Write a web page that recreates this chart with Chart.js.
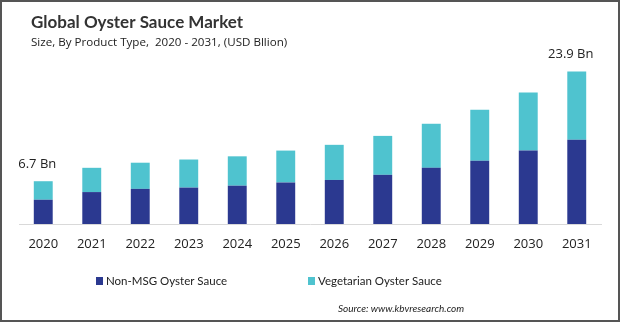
<!DOCTYPE html>
<html>
<head>
<meta charset="utf-8">
<script src="https://cdn.jsdelivr.net/npm/chart.js@4"></script>
<style>
  html, body { margin: 0; padding: 0; background: #fff; }
  canvas { display: block; }
</style>
</head>
<body>
<canvas id="chart1" width="620" height="322"></canvas>
<script>
const years = ["2020", "2021", "2022", "2023", "2024", "2025", "2026", "2027", "2028", "2029", "2030", "2031"];
const nonMsg = [3.8, 5.0, 5.5, 5.7, 6.0, 6.5, 6.9, 7.7, 8.8, 9.9, 11.5, 13.2];
const vegetarian = [2.9, 3.8, 4.1, 4.4, 4.6, 5.0, 5.5, 6.1, 6.9, 8.0, 9.1, 10.7];
const endLabels = ["6.7 Bn", "", "", "", "", "", "", "", "", "", "", "23.9 Bn"];

const titleText = "Global Oyster Sauce Market";
const subtitleText = "Size, By Product Type,  2020 - 2031, (USD Bllion)";
const sourceText = "Source: www.kbvresearch.com";

const font = "'Open Sans', sans-serif";
const narrow = "Lato, sans-serif";
const navy = "#2b3990";
const teal = "#4fc3cf";

// title, legend, labels and border drawn straight on the canvas
const extras = {
  id: "extras",
  afterDraw(chart) {
    const c = chart.ctx;
    c.save();

    c.strokeStyle = "#555";
    c.lineWidth = 2;
    c.strokeRect(1, 1, 618, 320);

    c.fillStyle = "#333";
    c.textBaseline = "alphabetic";
    c.textAlign = "left";
    c.font = "bold 17px " + narrow;
    c.fillText(titleText, 31, 28);
    c.font = "11.6px " + font;
    c.fillStyle = "#222";
    c.fillText(subtitleText, 31, 46);

    // totals above first and last bar
    const x = chart.scales.x, y = chart.scales.y;
    c.font = "13px " + font;
    c.fillStyle = "#222";
    c.textAlign = "center";
    endLabels.forEach((t, i) => {
      if (!t) return;
      const total = nonMsg[i] + vegetarian[i];
      c.fillText(t, x.getPixelForValue(i) - 6, y.getPixelForValue(total) - 13);
    });

    // legend
    c.textAlign = "left";
    c.textBaseline = "middle";
    c.font = "11.5px " + narrow;
    const items = [
      { text: chart.data.datasets[0].label, color: navy, x: 96 },
      { text: chart.data.datasets[1].label, color: teal, x: 308 },
    ];
    items.forEach((it) => {
      c.fillStyle = it.color;
      c.fillRect(it.x, 277, 7, 8);
      c.fillStyle = "#222";
      c.fillText(it.text, it.x + 10, 281.5);
    });

    c.font = "italic 10px " + narrow;
    c.fillStyle = "#222";
    c.fillText(sourceText, 338, 309);

    c.restore();
  },
};

var ctx = document.getElementById("chart1").getContext("2d");
var myChart = new Chart(ctx, {
  type: "bar",
  data: {
    labels: years,
    datasets: [
      {
        label: "Non-MSG Oyster Sauce",
        data: nonMsg,
        backgroundColor: navy,
        barPercentage: 0.39,
        categoryPercentage: 1,
      },
      {
        label: "Vegetarian Oyster Sauce",
        data: vegetarian,
        backgroundColor: teal,
        barPercentage: 0.39,
        categoryPercentage: 1,
      },
    ],
  },
  options: {
    responsive: false,
    animation: false,
    layout: {
      padding: { top: 58, left: 19, right: 19, bottom: 0 },
    },
    plugins: {
      legend: { display: false },
      tooltip: { enabled: false },
    },
    scales: {
      x: {
        stacked: true,
        grid: { display: false, drawTicks: false },
        border: { display: true, color: "#d9d9d9", width: 1 },
        ticks: {
          color: "#222",
          padding: 12,
          font: { family: "'Open Sans', sans-serif", size: 13 },
        },
        afterFit(scale) {
          scale.height = 98;
        },
      },
      y: {
        stacked: true,
        display: false,
        min: 0,
        max: 26,
      },
    },
  },
  plugins: [extras],
});
</script>
</body>
</html>
